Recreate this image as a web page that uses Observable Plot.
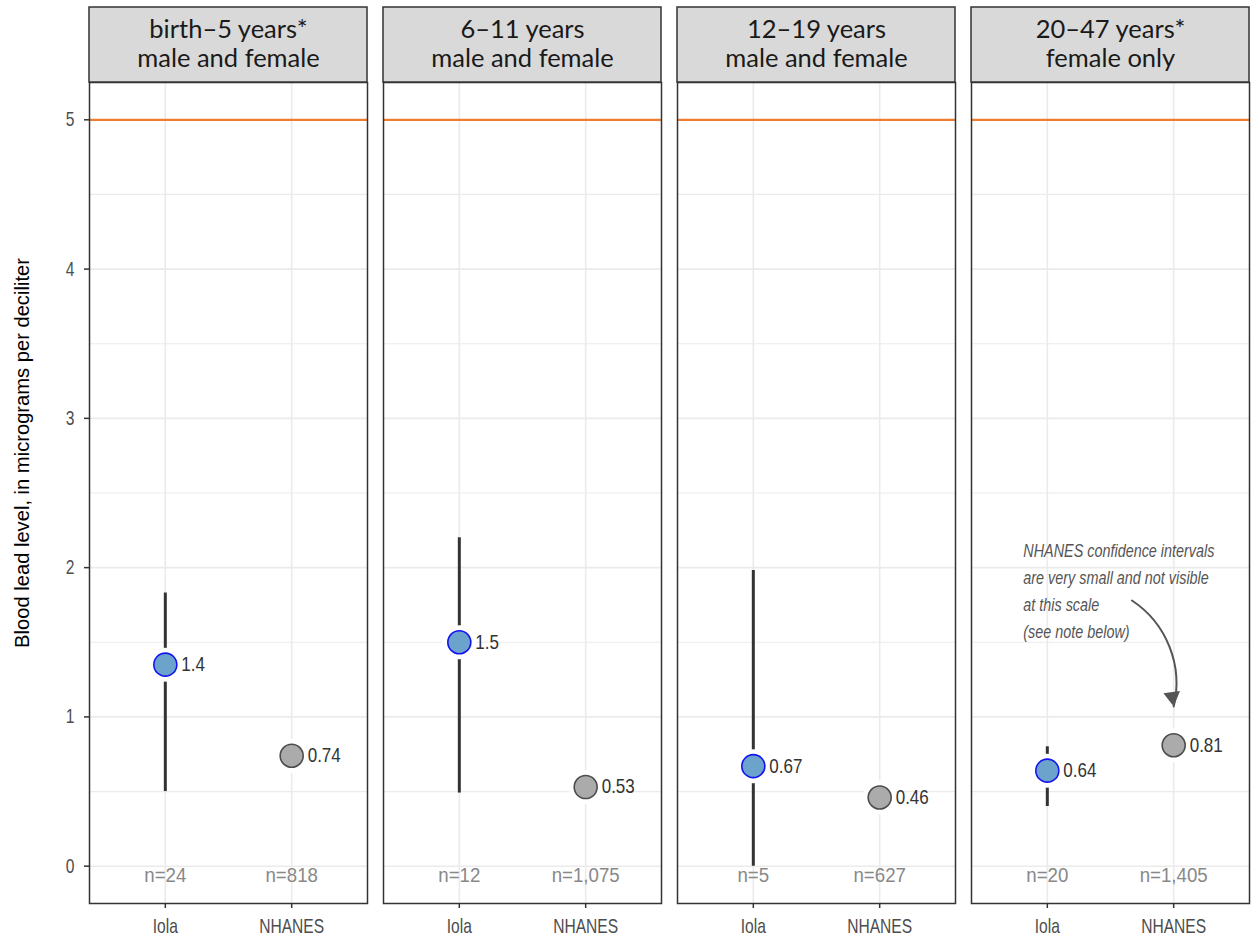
<!DOCTYPE html>
<html><head><meta charset="utf-8">
<script src="https://cdn.jsdelivr.net/npm/d3@7"></script>
<script src="https://cdn.jsdelivr.net/npm/@observablehq/plot@0.6"></script>
<style>body{margin:0;background:#fff}</style>
</head><body><div id="chart"></div>
<script>
const groups = ["birth–5 years*\nmale and female", "6–11 years\nmale and female", "12–19 years\nmale and female", "20–47 years*\nfemale only"];
const sites = ["Iola", "NHANES"];
const iolaMean = [1.35, 1.50, 0.67, 0.64];
const iolaLabel = ["1.4", "1.5", "0.67", "0.64"];
const iolaLow = [0.50, 0.49, 0.0, 0.40];
const iolaHigh = [1.83, 2.20, 1.98, 0.80];
const iolaN = ["n=24", "n=12", "n=5", "n=20"];
const nhanesMean = [0.74, 0.53, 0.46, 0.81];
const nhanesLabel = ["0.74", "0.53", "0.46", "0.81"];
const nhanesN = ["n=818", "n=1,075", "n=627", "n=1,405"];
const yTicks = [0, 1, 2, 3, 4, 5];
const yMinorTicks = [0.5, 1.5, 2.5, 3.5, 4.5];
const referenceLevel = [5];
const yTitle = "Blood lead level, in micrograms per deciliter";
const note = "NHANES confidence intervals\nare very small and not visible\nat this scale\n(see note below)";

const iolaRows = groups.map((g, i) => ({group: g, site: 1, mean: iolaMean[i], label: iolaLabel[i], lo: iolaLow[i], hi: iolaHigh[i], n: iolaN[i]}));
const nhanesRows = groups.map((g, i) => ({group: g, site: 2, mean: nhanesMean[i], label: nhanesLabel[i], n: nhanesN[i]}));
const rows = [...iolaRows, ...nhanesRows];

const cond = "'Liberation Sans', Arial, sans-serif";
const W = 1252, H = 943, mT = 82, mB = 40, mL = 88, mR = 1;
const frameH = H - mT - mB;

// text colours (also used to pick a horizontal condensing factor per kind of text)
const cValue = "#333333", cN = "#888888", cNote = "#555555", cTick = "#4d4d4d", cTitle = "#000000";
const squeezeBy = {
  "rgb(51, 51, 51)": 0.85,
  "rgb(136, 136, 136)": 0.89,
  "rgb(85, 85, 85)": 0.80,
  "rgb(77, 77, 77)": 0.78,
  "rgb(0, 0, 0)": 0.96
};

const chart = Plot.plot({
  width: W, height: H,
  marginLeft: mL, marginRight: mR, marginTop: mT, marginBottom: mB,
  style: {fontFamily: cond, background: "white"},
  fx: {domain: groups, paddingInner: 0.054, paddingOuter: 0, axis: null},
  x: {domain: [0.4, 2.6]},
  y: {domain: [-0.25, 5.25]},
  marks: [
    Plot.gridY(yMinorTicks, {stroke: "#ebebeb", strokeOpacity: 1, strokeWidth: 1.2}),
    Plot.gridY(yTicks, {stroke: "#ebebeb", strokeOpacity: 1, strokeWidth: 1.6}),
    Plot.gridX([1, 2], {stroke: "#ebebeb", strokeOpacity: 1, strokeWidth: 1.6}),
    Plot.ruleY(referenceLevel, {stroke: "#ee7d31", strokeWidth: 2.2}),
    Plot.ruleX(iolaRows, {fx: "group", x: "site", y1: "lo", y2: "hi", stroke: "#333", strokeWidth: 3}),
    Plot.dot(rows, {fx: "group", x: "site", y: "mean", r: 17, fill: "white", stroke: "none"}),
    Plot.dot(iolaRows, {fx: "group", x: "site", y: "mean", r: 11.5, fill: "#6ba3cc", stroke: "#1414f0", strokeWidth: 1.6}),
    Plot.dot(nhanesRows, {fx: "group", x: "site", y: "mean", r: 11.5, fill: "#ababab", stroke: "#4d4d4d", strokeWidth: 1.6}),
    Plot.text(rows, {fx: "group", x: "site", y: "mean", text: "label", dx: 16, textAnchor: "start", fontSize: 20, fill: cValue}),
    Plot.text(rows, {fx: "group", x: "site", text: "n", frameAnchor: "bottom", dy: -22, fontSize: 21, fill: cN}),
    Plot.text([note], {fx: () => groups[3], x: () => 0.81, y: () => 1.86, text: d => d, textAnchor: "start", lineAnchor: "middle", lineHeight: 1.5, fontStyle: "italic", fontSize: 18, fill: cNote}),
    Plot.arrow([0], {fx: () => groups[3], x1: () => 1.67, y1: () => 1.78, x2: () => 2, y2: () => 1.07, bend: 35, stroke: "#555", strokeWidth: 2, headLength: 0}),
    Plot.dot([0], {fx: () => groups[3], x: () => 2, y: () => 1.07, symbol: "triangle", r: 6.2, rotate: 172, fill: "#555", stroke: "none", dy: -9.5, dx: -1.3}),
    Plot.frame({stroke: "#333", strokeWidth: 1.5}),
    Plot.rect(groups, {fx: d => d, insetTop: -75, insetBottom: frameH, fill: "#d9d9d9", stroke: "#333", strokeWidth: 1.5}),
    Plot.text(groups, {fx: d => d, text: d => d, frameAnchor: "top", dy: -39, lineAnchor: "middle", lineHeight: 1.1, fontSize: 25.5, fontFamily: "Lato", fill: "#1a1a1a"}),
    Plot.text([yTitle], {fx: () => groups[0], text: d => d, frameAnchor: "left", textAnchor: "middle", rotate: -90, dx: -67, dy: -40, fontSize: 21, fill: cTitle}),
    Plot.axisY(yTicks, {tickSize: 5, tickPadding: 10, fontSize: 20, stroke: "#333", fill: cTick, strokeWidth: 1.5, label: null, tickFormat: d => String(d)}),
    Plot.axisX([1, 2], {tickSize: 5, tickPadding: 10, fontSize: 20, stroke: "#333", fill: cTick, strokeWidth: 1.5, label: null, tickFormat: d => sites[d - 1]})
  ]
});

document.getElementById("chart").appendChild(chart);

// condense the small texts horizontally about their anchor (no condensed face is installed)
chart.querySelectorAll("text").forEach(el => {
  const k = squeezeBy[getComputedStyle(el).fill];
  if (!k) return;
  const t = el.getAttribute("transform");
  if (t) {
    el.setAttribute("transform", `${t} scale(${k},1)`);
  } else {
    const x0 = +(el.getAttribute("x") || 0);
    el.setAttribute("transform", `translate(${x0},0) scale(${k},1) translate(${-x0},0)`);
  }
});
</script>
</body></html>
